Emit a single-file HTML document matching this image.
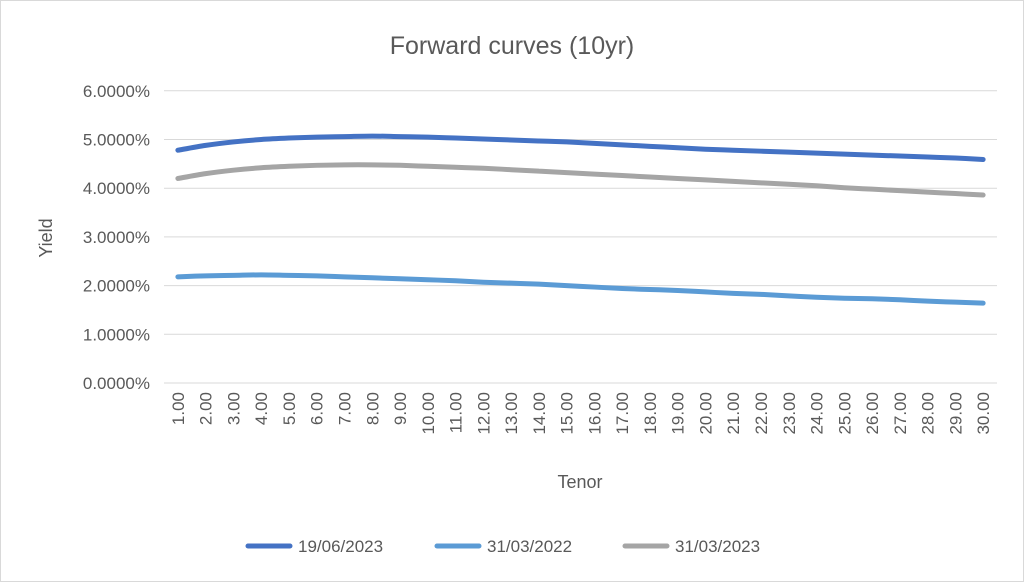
<!DOCTYPE html>
<html><head><meta charset="utf-8"><style>
html,body{margin:0;padding:0;background:#fff;}
svg{display:block;font-family:"Liberation Sans",sans-serif;}
</style></head><body>
<svg id="chart" width="1024" height="582" viewBox="0 0 1024 582">
<rect x="0.5" y="0.5" width="1023" height="581" fill="#fff" stroke="#d9d9d9"/>
<text x="512" y="54" text-anchor="middle" font-size="25" fill="#595959">Forward curves (10yr)</text>
<text transform="translate(52,238) rotate(-90)" text-anchor="middle" font-size="18" fill="#595959">Yield</text>
<text x="580" y="488" text-anchor="middle" font-size="18" fill="#595959">Tenor</text>
<g id="grid"></g><g id="yticks"></g><g id="xticks"></g><g id="series"></g><g id="legend"></g>
</svg>
<script>
const tenors=[1,2,3,4,5,6,7,8,9,10,11,12,13,14,15,16,17,18,19,20,21,22,23,24,25,26,27,28,29,30];
const yTicks=[0,1,2,3,4,5,6];
const s19062023=[4.78,4.88,4.95,5.00,5.03,5.05,5.06,5.07,5.06,5.05,5.03,5.01,4.99,4.97,4.95,4.92,4.89,4.86,4.83,4.80,4.78,4.76,4.74,4.72,4.70,4.68,4.66,4.64,4.62,4.59];
const s31032022=[2.18,2.20,2.21,2.22,2.21,2.20,2.18,2.16,2.14,2.12,2.10,2.07,2.05,2.03,2.00,1.97,1.94,1.92,1.90,1.87,1.84,1.82,1.79,1.76,1.74,1.73,1.71,1.68,1.66,1.64];
const s31032023=[4.20,4.30,4.37,4.42,4.45,4.47,4.48,4.48,4.47,4.45,4.43,4.41,4.38,4.35,4.32,4.29,4.26,4.23,4.20,4.17,4.14,4.11,4.08,4.05,4.01,3.98,3.95,3.92,3.89,3.86];
const seriesNames=["19/06/2023","31/03/2022","31/03/2023"];
const NS="http://www.w3.org/2000/svg";
const L=164,R=997,Y0=383,PX=48.7;
const bw=(R-L)/tenors.length;
function xs(i){return L+bw*(i+0.5);}
function ys(v){return Y0-v*PX;}
function mk(t,a,p){const e=document.createElementNS(NS,t);for(const k in a)e.setAttribute(k,a[k]);p.appendChild(e);return e;}
const grid=document.getElementById('grid'),yt=document.getElementById('yticks'),xt=document.getElementById('xticks');
yTicks.forEach(v=>{
 const g=mk('line',{x1:L,x2:R,y1:ys(v),y2:ys(v),stroke:'#d9d9d9','stroke-width':1},grid);
 
 
 const t=mk('text',{x:150,y:ys(v)+6,'text-anchor':'end','font-size':17,fill:'#595959'},yt);
 t.textContent=v.toFixed(4)+'%';
 
 
});
tenors.forEach((v,i)=>{
 const t=mk('text',{transform:`translate(${xs(i)+6},${392}) rotate(-90)`,'text-anchor':'end','font-size':17,fill:'#595959'},xt);
 t.textContent=v.toFixed(2);
 
 
});
function smooth(vals){
 const p=vals.map((v,i)=>[xs(i),ys(v)]);
 let d=`M${p[0][0]},${p[0][1]}`;
 for(let i=0;i<p.length-1;i++){
  const p0=p[i-1]||p[i],p1=p[i],p2=p[i+1],p3=p[i+2]||p2;
  const c1=[p1[0]+(p2[0]-p0[0])/6,p1[1]+(p2[1]-p0[1])/6];
  const c2=[p2[0]-(p3[0]-p1[0])/6,p2[1]-(p3[1]-p1[1])/6];
  d+=`C${c1[0]},${c1[1]} ${c2[0]},${c2[1]} ${p2[0]},${p2[1]}`;
 }
 return d;
}
const ser=document.getElementById('series'),leg=document.getElementById('legend');
const all=[s19062023,s31032022,s31032023],cols=['#4472c4','#5b9bd5','#a5a5a5'],lx=[248,437,625];
all.forEach((s,k)=>{
 const p=mk('path',{d:smooth(s),fill:'none',stroke:cols[k],'stroke-width':5,'stroke-linecap':'round'},ser);
 
 
 const l=mk('line',{x1:lx[k],x2:lx[k]+42,y1:546,y2:546,stroke:cols[k],'stroke-width':5,'stroke-linecap':'round'},leg);
 
 
 const t=mk('text',{x:lx[k]+50,y:552,'font-size':17,fill:'#595959'},leg);
 t.textContent=seriesNames[k];
 
 
});
</script>
</body></html>
